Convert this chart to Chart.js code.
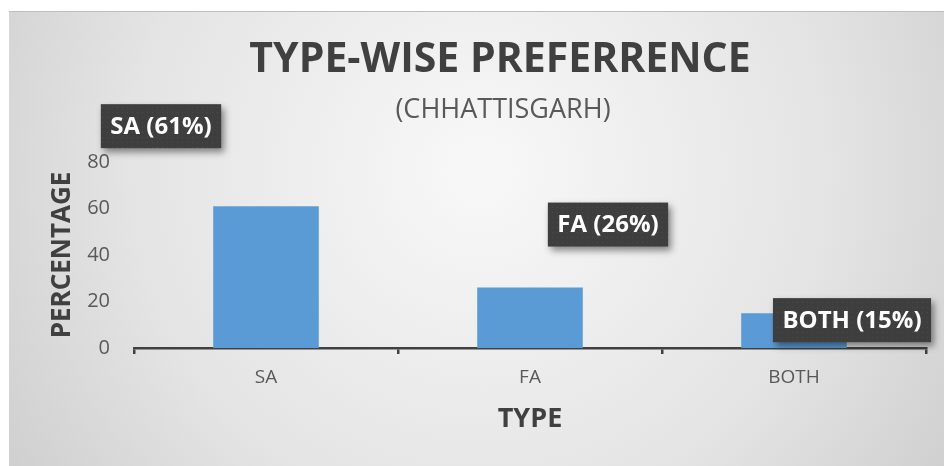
<!DOCTYPE html>
<html>
<head>
<meta charset="utf-8">
<script src="https://cdn.jsdelivr.net/npm/chart.js@4.4.1/dist/chart.umd.min.js"></script>
<style>
  html, body { margin: 0; padding: 0; background: #ffffff; }
  #wrap { position: relative; width: 944px; height: 466px; }
</style>
</head>
<body>
<div id="wrap"><canvas id="c" width="944" height="466"></canvas></div>
<script>
// ---- data ----
const categories = ['SA', 'FA', 'BOTH'];
const percentages = [61, 26, 15];
const labelTexts = ['SA (61%)', 'FA (26%)', 'BOTH (15%)'];
const yTicks = [0, 20, 40, 60, 80];
const chartTitle = 'TYPE-WISE PREFERRENCE';
const chartSubtitle = '(CHHATTISGARH)';
const xTitle = 'TYPE';
const yTitle = 'PERCENTAGE';

const REG = "'Open Sans', 'Liberation Sans', sans-serif";

// dotted pattern for the label boxes
function makePattern(ctx) {
  const p = document.createElement('canvas');
  p.width = 5; p.height = 5;
  const g = p.getContext('2d');
  g.fillStyle = '#3e3e3e';
  g.fillRect(0, 0, 5, 5);
  g.fillStyle = '#4b4b4b';
  g.fillRect(2, 2, 1, 1);
  return ctx.createPattern(p, 'repeat');
}

const backgroundPlugin = {
  id: 'bgPanel',
  beforeDraw(chart) {
    const ctx = chart.ctx;
    ctx.save();
    ctx.fillStyle = '#ffffff';
    ctx.fillRect(0, 0, chart.width, chart.height);
    const g = ctx.createRadialGradient(480, 170, 20, 480, 170, 620);
    g.addColorStop(0, '#f7f7f7');
    g.addColorStop(0.55, '#e4e4e4');
    g.addColorStop(1, '#c9c9c9');
    ctx.fillStyle = g;
    ctx.fillRect(9, 11, chart.width - 9, chart.height - 11);
    ctx.strokeStyle = '#bdbdbd';
    ctx.lineWidth = 1;
    ctx.beginPath();
    ctx.moveTo(9, 11.5);
    ctx.lineTo(chart.width, 11.5);
    ctx.stroke();
    ctx.restore();
  }
};

const headingPlugin = {
  id: 'headings',
  afterDraw(chart) {
    const ctx = chart.ctx;
    ctx.save();
    ctx.fillStyle = '#404040';
    ctx.textAlign = 'center';
    ctx.textBaseline = 'middle';
    ctx.font = "bold 41px " + REG;
    ctx.fillText(chartTitle, 500, 60);
    ctx.fillStyle = '#595959';
    ctx.font = "27px " + REG;
    ctx.fillText(chartSubtitle, 503, 110);
    ctx.restore();
  }
};

const labelOffsets = [[-105, -80], [78, -63], [58, 7]];
const calloutPlugin = {
  id: 'callouts',
  afterDatasetsDraw(chart) {
    const ctx = chart.ctx;
    const meta = chart.getDatasetMeta(0);
    const pat = makePattern(ctx);
    ctx.save();
    ctx.font = "bold 24px " + REG;
    meta.data.forEach((bar, i) => {
      const cx = bar.x + labelOffsets[i][0];
      const cy = bar.y + labelOffsets[i][1];
      const tw = ctx.measureText(labelTexts[i]).width;
      const w = tw + 19, h = 44;
      ctx.save();
      ctx.shadowColor = 'rgba(0,0,0,0.45)';
      ctx.shadowBlur = 7;
      ctx.shadowOffsetX = 3;
      ctx.shadowOffsetY = 4;
      ctx.fillStyle = pat;
      ctx.fillRect(cx - w / 2, cy - h / 2, w, h);
      ctx.restore();
      ctx.fillStyle = '#ffffff';
      ctx.textAlign = 'center';
      ctx.textBaseline = 'middle';
      ctx.fillText(labelTexts[i], cx, cy + 1);
    });
    ctx.restore();
  }
};

new Chart(document.getElementById('c'), {
  type: 'bar',
  data: {
    labels: categories,
    datasets: [{
      data: percentages,
      backgroundColor: '#5b9bd5',
      borderWidth: 0,
      categoryPercentage: 1.0,
      barPercentage: 0.4
    }]
  },
  options: {
    responsive: false,
    animation: false,
    devicePixelRatio: 1,
    layout: { padding: { left: 0, right: 18, top: 162, bottom: 0 } },
    plugins: {
      legend: { display: false },
      title: { display: false },
      tooltip: { enabled: false }
    },
    scales: {
      x: {
        afterFit(scale) { scale.height = 118; },
        border: { display: true, color: '#404040', width: 2.5 },
        grid: { display: true, drawOnChartArea: false, drawTicks: true, tickLength: 6, color: '#404040', lineWidth: 2.5 },
        ticks: { color: '#595959', font: { family: REG, size: 19 }, padding: 12 },
        title: { display: true, text: xTitle, color: '#404040', font: { family: REG, size: 27, weight: 'bold' }, padding: { top: 0, bottom: 30 } }
      },
      y: {
        min: 0, max: 80,
        afterFit(scale) { scale.width = 134; },
        afterBuildTicks(scale) { scale.ticks = yTicks.map(v => ({ value: v })); },
        border: { display: false },
        grid: { display: false, drawTicks: false },
        ticks: { color: '#595959', font: { family: REG, size: 20 }, padding: 24 },
        title: { display: true, text: yTitle, color: '#404040', font: { family: REG, size: 26, weight: 'bold' }, padding: { top: 47, bottom: 0 } }
      }
    }
  },
  plugins: [backgroundPlugin, headingPlugin, calloutPlugin]
});
</script>
</body>
</html>
